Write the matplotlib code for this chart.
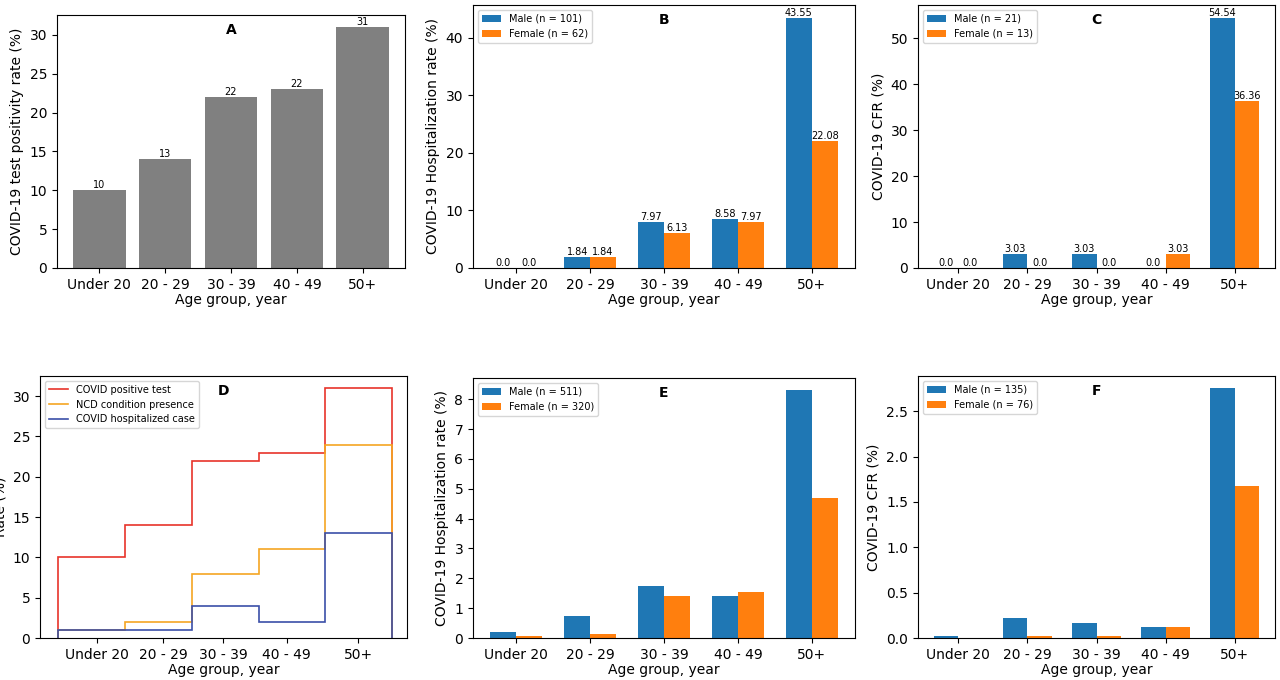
import numpy as np
import matplotlib
matplotlib.use('Agg')
import matplotlib.pyplot as plt

ages = ['Under 20', '20 - 29', '30 - 39', '40 - 49', '50+']
pos_rate = [10, 14, 22, 23, 31]
pos_labels = ['10', '13', '22', '22', '31']

hosp_m = [0.0, 1.84, 7.97, 8.58, 43.55]
hosp_f = [0.0, 1.84, 6.13, 7.97, 22.08]
cfr_m = [0.0, 3.03, 3.03, 0.0, 54.54]
cfr_f = [0.0, 0.0, 0.0, 3.03, 36.36]

ncd = [1, 2, 8, 11, 24]
hosp_case = [1, 1, 4, 2, 13]

hosp2_m = [0.2, 0.75, 1.75, 1.4, 8.3]
hosp2_f = [0.07, 0.12, 1.4, 1.55, 4.7]
cfr2_m = [0.02, 0.22, 0.17, 0.12, 2.75]
cfr2_f = [0.0, 0.02, 0.02, 0.12, 1.68]

BLUE = '#1f77b4'
ORANGE = '#ff7f0e'

fig = plt.figure(figsize=(12.8, 6.8), dpi=100)
W, H = 1280, 680
def add(x0, y0, x1, y1):
    return fig.add_axes([x0 / W, 1 - y1 / H, (x1 - x0) / W, (y1 - y0) / H])

x = np.arange(len(ages))

# A
ax = add(57, 15, 405, 268)
bars = ax.bar(x, pos_rate, width=0.8, color='grey')
for b, t in zip(bars, pos_labels):
    ax.text(b.get_x() + b.get_width() / 2, b.get_height(), t, ha='center', va='bottom', fontsize=7)
ax.set_xticks(x)
ax.set_xticklabels(ages)
ax.set_ylabel('COVID-19 test positivity rate (%)')
ax.set_xlabel('Age group, year', labelpad=1)
ax.text(0.5, 0.97, 'A', transform=ax.transAxes, ha='center', va='top', fontweight='bold')

def grouped(ax, m, f, nm, nf, label, ylabel, annotate):
    w = 0.35
    b1 = ax.bar(x - w / 2, m, w, color=BLUE, label='Male (n = %d)' % nm)
    b2 = ax.bar(x + w / 2, f, w, color=ORANGE, label='Female (n = %d)' % nf)
    if annotate:
        for bs in (b1, b2):
            for b in bs:
                ax.text(b.get_x() + b.get_width() / 2, b.get_height(), str(b.get_height()),
                        ha='center', va='bottom', fontsize=7)
    ax.set_xticks(x)
    ax.set_xticklabels(ages)
    ax.set_ylabel(ylabel)
    ax.set_xlabel('Age group, year', labelpad=1)
    ax.legend(loc='upper left', fontsize=7)
    ax.text(0.5, 0.97, label, transform=ax.transAxes, ha='center', va='top', fontweight='bold')

grouped(add(473, 5, 855, 268), hosp_m, hosp_f, 101, 62, 'B', 'COVID-19 Hospitalization rate (%)', True)
grouped(add(918, 5, 1275, 268), cfr_m, cfr_f, 21, 13, 'C', 'COVID-19 CFR (%)', True)

# D
ax = add(40, 376, 407, 638)
edges = np.arange(6)
ax.stairs(pos_rate, edges, color='#e8332a', label='COVID positive test', linewidth=1.2)
ax.stairs(ncd, edges, color='#f5a623', label='NCD condition presence', linewidth=1.2)
ax.stairs(hosp_case, edges, color='#3b4fa8', label='COVID hospitalized case', linewidth=1.2)
ax.set_xticks([0.58, 1.57, 2.47, 3.42, 4.49])
ax.set_xticklabels(ages)
ax.set_xlim(-0.27, 5.22)
ax.set_ylim(0, 32.5)
ax.set_ylabel('Rate (%)')
ax.set_xlabel('Age group, year', labelpad=1)
ax.legend(loc='upper left', fontsize=7)
ax.text(0.5, 0.97, 'D', transform=ax.transAxes, ha='center', va='top', fontweight='bold')

grouped(add(473, 378, 855, 638), hosp2_m, hosp2_f, 511, 320, 'E', 'COVID-19 Hospitalization rate (%)', False)
grouped(add(918, 376, 1275, 638), cfr2_m, cfr2_f, 135, 76, 'F', 'COVID-19 CFR (%)', False)

fig.savefig('out.png', dpi=100)
